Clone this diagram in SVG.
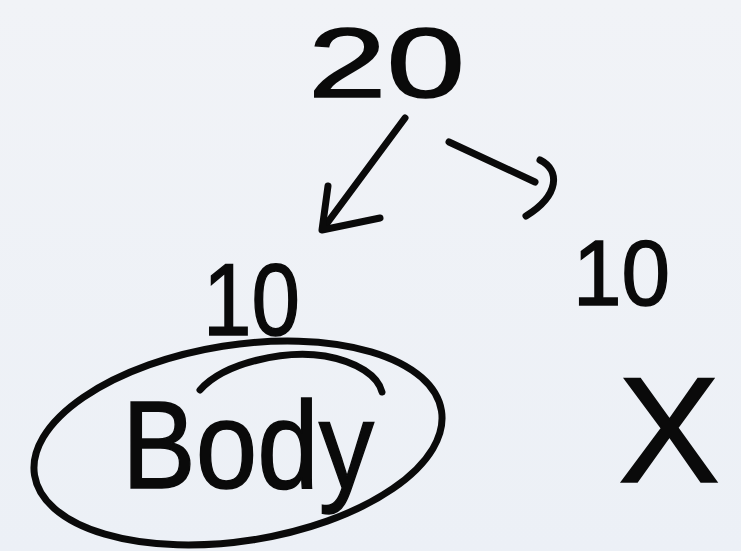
<svg xmlns="http://www.w3.org/2000/svg" width="741" height="551" viewBox="0 0 741 551">
  <defs>
    <linearGradient id="bg" x1="0" y1="0" x2="0" y2="1">
      <stop offset="0" stop-color="#f1f3f7"/>
      <stop offset="1" stop-color="#ecf0f6"/>
    </linearGradient>
  </defs>
  <style>
    .hw { font-family: "Liberation Sans", Arial, sans-serif; fill: #0a0a0a; stroke: #0a0a0a; stroke-width: 1.5; }
    .ink { fill: none; stroke: #0a0a0a; stroke-width: 7; stroke-linecap: round; stroke-linejoin: round; }
  </style>
  <rect width="741" height="551" fill="url(#bg)"/>

  <g id="node-20">
    <text class="hw" x="308" y="97" font-size="98" textLength="157" lengthAdjust="spacingAndGlyphs">20</text>
  </g>

  <g id="node-10-left">
    <text class="hw" x="203" y="335" font-size="102" textLength="97" lengthAdjust="spacingAndGlyphs">10</text>
  </g>

  <g id="node-10-right">
    <text class="hw" x="573" y="305" font-size="92" textLength="97" lengthAdjust="spacingAndGlyphs">10</text>
  </g>

  <g id="node-body">
    <ellipse class="ink" cx="238" cy="443" rx="206" ry="98" transform="rotate(-9 238 443)"/>
    <path class="ink" d="M200 390 C225 362 285 350 325 356 C358 362 378 376 382 392" stroke-width="4"/>
    <text class="hw" x="122" y="488" font-size="124" textLength="252" lengthAdjust="spacingAndGlyphs">Body</text>
  </g>

  <g id="node-x">
    <text class="hw" x="618" y="482" font-size="150" textLength="102" lengthAdjust="spacingAndGlyphs" stroke-width="0">X</text>
  </g>

  <g id="connectors">
    <path class="ink" d="M405 118 L325 226"/>
    <path class="ink" d="M328 186 L322 230 L380 218"/>
    <path class="ink" d="M449 142 L535 182"/>
    <path class="ink" d="M540 160 C560 170 560 195 526 216"/>
  </g>
</svg>
